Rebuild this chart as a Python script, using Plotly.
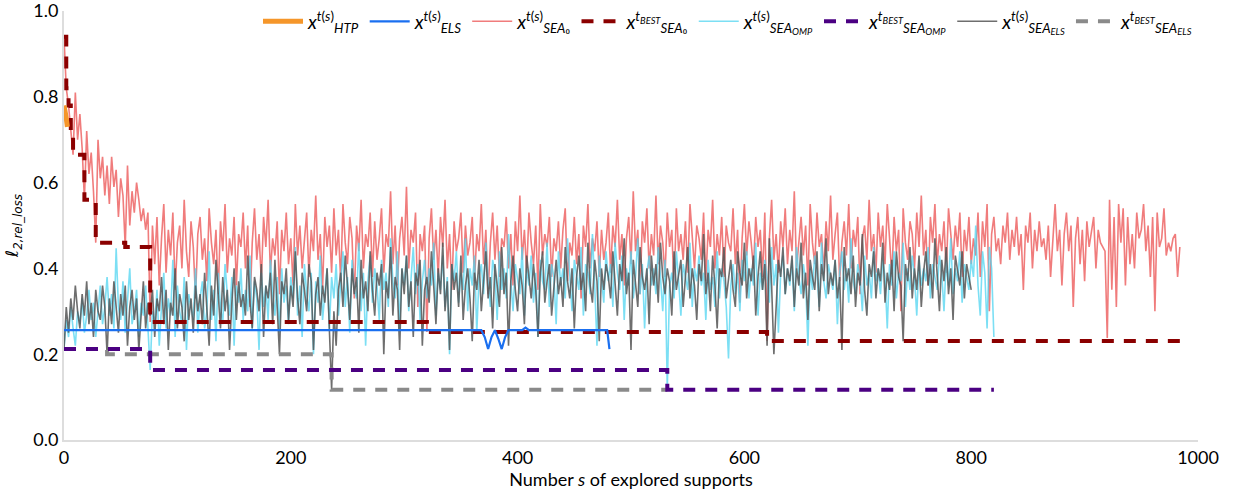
import plotly.graph_objects as go

# ---------------- data ----------------
HTP_S = [0, 1, 2, 3]
HTP_Y = [0.78, 0.77, 0.75, 0.73]

ELS_S = [0, 368, 371, 374, 377, 380, 383, 386, 389, 392, 404, 407, 410, 479, 481]
ELS_Y = [0.256, 0.256, 0.24, 0.212, 0.24, 0.256, 0.236, 0.212, 0.24, 0.256, 0.256, 0.262, 0.256, 0.256, 0.212]

SEA0_Y = [
    0.94, 0.82, 0.78, 0.72, 0.665, 0.81, 0.70, 0.76, 0.68, 0.56, 0.72, 0.62, 0.67, 0.58, 0.46, 0.70, 0.61, 0.66, 0.57, 0.64,
    0.55, 0.66, 0.59, 0.63, 0.52, 0.61, 0.57, 0.45, 0.64, 0.50, 0.58, 0.53, 0.60, 0.56, 0.51, 0.54, 0.49, 0.53, 0.275, 0.50,
    0.41, 0.52, 0.36, 0.47, 0.55, 0.39, 0.49, 0.43, 0.53, 0.35, 0.46, 0.50, 0.40, 0.56, 0.44, 0.38, 0.51, 0.45, 0.33, 0.48,
    0.52, 0.42, 0.47, 0.37, 0.54, 0.46, 0.41, 0.49, 0.34, 0.51, 0.44, 0.55, 0.39, 0.47, 0.43, 0.52, 0.36, 0.48, 0.45, 0.53,
    0.40, 0.50, 0.31, 0.46, 0.54, 0.42, 0.48, 0.37, 0.52, 0.45, 0.56, 0.39, 0.47, 0.43, 0.51, 0.34, 0.49, 0.44, 0.53, 0.41,
    0.47, 0.36, 0.55, 0.43, 0.50, 0.40, 0.46, 0.53, 0.38, 0.49, 0.44, 0.57, 0.42, 0.48, 0.35, 0.52, 0.45, 0.50, 0.39, 0.54,
    0.43, 0.49, 0.37, 0.55, 0.46, 0.41, 0.52, 0.47, 0.33, 0.50, 0.44, 0.56, 0.40, 0.48, 0.45, 0.53, 0.38, 0.51, 0.42, 0.47,
    0.54, 0.39, 0.48, 0.45, 0.58, 0.41, 0.50, 0.36, 0.47, 0.52, 0.43, 0.59, 0.40, 0.49, 0.46, 0.53, 0.31, 0.48, 0.44, 0.50,
    0.252, 0.47, 0.54, 0.42, 0.49, 0.38, 0.52, 0.45, 0.56, 0.40, 0.48, 0.35, 0.51, 0.44, 0.47, 0.53, 0.39, 0.50, 0.43, 0.46,
    0.52, 0.37, 0.48, 0.44, 0.55, 0.41, 0.49, 0.34, 0.46, 0.53, 0.42, 0.50, 0.38, 0.47, 0.45, 0.52, 0.40, 0.48, 0.36, 0.51,
    0.44, 0.57, 0.42, 0.49, 0.39, 0.53, 0.46, 0.41, 0.50, 0.35, 0.55, 0.43, 0.48, 0.45, 0.52, 0.38, 0.47, 0.44, 0.51, 0.40,
    0.49, 0.54, 0.37, 0.46, 0.43, 0.52, 0.41, 0.48, 0.33, 0.50, 0.45, 0.55, 0.40, 0.47, 0.44, 0.51, 0.38, 0.49, 0.42, 0.46,
    0.53, 0.39, 0.50, 0.45, 0.56, 0.42, 0.48, 0.36, 0.47, 0.52, 0.41, 0.58, 0.44, 0.49, 0.34, 0.51, 0.46, 0.54, 0.40, 0.48,
    0.43, 0.57, 0.41, 0.50, 0.46, 0.38, 0.53, 0.45, 0.49, 0.35, 0.54, 0.44, 0.48, 0.42, 0.51, 0.39, 0.55, 0.46, 0.40, 0.50,
    0.47, 0.42, 0.53, 0.37, 0.49, 0.45, 0.56, 0.40, 0.48, 0.43, 0.52, 0.38, 0.50, 0.46, 0.44, 0.54, 0.41, 0.49, 0.32, 0.47,
    0.55, 0.43, 0.51, 0.46, 0.40, 0.52, 0.45, 0.49, 0.38, 0.53, 0.231, 0.47, 0.56, 0.42, 0.48, 0.39, 0.51, 0.45, 0.54, 0.41,
    0.49, 0.44, 0.58, 0.40, 0.47, 0.52, 0.43, 0.50, 0.36, 0.55, 0.46, 0.41, 0.53, 0.45, 0.48, 0.39, 0.51, 0.44, 0.57, 0.42,
    0.48, 0.53, 0.37, 0.46, 0.51, 0.43, 0.55, 0.40, 0.49, 0.45, 0.52, 0.34, 0.47, 0.50, 0.42, 0.56, 0.44, 0.48, 0.39, 0.53,
    0.45, 0.50, 0.41, 0.55, 0.47, 0.38, 0.52, 0.44, 0.49, 0.30, 0.54, 0.46, 0.42, 0.51, 0.48, 0.40, 0.53, 0.45, 0.57, 0.43,
    0.49, 0.36, 0.52, 0.46, 0.55, 0.41, 0.48, 0.44, 0.51, 0.39, 0.54, 0.47, 0.42, 0.50, 0.45, 0.53, 0.38, 0.49, 0.44, 0.52,
    0.41, 0.47, 0.43, 0.53, 0.38, 0.51, 0.45, 0.55, 0.30, 0.48, 0.52, 0.44, 0.47, 0.41, 0.50, 0.46, 0.53, 0.42, 0.49, 0.45,
    0.52, 0.43, 0.48, 0.35, 0.50, 0.46, 0.53, 0.40, 0.49, 0.44, 0.51, 0.45, 0.47, 0.42, 0.50, 0.38, 0.46, 0.55, 0.44, 0.49,
    0.36, 0.48, 0.53, 0.44, 0.50, 0.31, 0.47, 0.52, 0.41, 0.49, 0.37, 0.51, 0.45, 0.48, 0.52, 0.40, 0.49, 0.46, 0.45, 0.44,
    0.238, 0.56, 0.35, 0.52, 0.31, 0.55, 0.46, 0.54, 0.36, 0.52, 0.41, 0.48, 0.40, 0.53, 0.47, 0.49, 0.55, 0.44, 0.50, 0.38,
    0.52, 0.30, 0.53, 0.45, 0.47, 0.54, 0.43, 0.46, 0.44, 0.47, 0.48, 0.38, 0.45,
]
SEA0_S = list(range(0, 2 * len(SEA0_Y), 2))

SEA0_BEST_S = [0, 2, 4, 6, 8, 18, 28, 54, 76, 320, 620, 984]
SEA0_BEST_Y = [0.94, 0.82, 0.78, 0.72, 0.665, 0.56, 0.46, 0.45, 0.275, 0.252, 0.231, 0.231]

OMP_Y = [
    0.212, 0.28, 0.24, 0.31, 0.26, 0.22, 0.30, 0.27, 0.33, 0.25, 0.29, 0.35, 0.28, 0.32, 0.24, 0.30, 0.36, 0.27, 0.31, 0.38,
    0.29, 0.34, 0.26, 0.447, 0.31, 0.28, 0.37, 0.25, 0.33, 0.40, 0.27, 0.30, 0.35, 0.24, 0.32, 0.29, 0.36, 0.26, 0.163, 0.30,
    0.27, 0.35, 0.22, 0.31, 0.39, 0.26, 0.33, 0.29, 0.42, 0.24, 0.36, 0.30, 0.27, 0.38, 0.21, 0.34, 0.31, 0.28, 0.40, 0.25,
    0.33, 0.37, 0.26, 0.30, 0.44, 0.28, 0.35, 0.23, 0.39, 0.31, 0.27, 0.41, 0.34, 0.29, 0.38, 0.22, 0.36, 0.32, 0.40, 0.28,
    0.35, 0.30, 0.43, 0.26, 0.37, 0.33, 0.21, 0.39, 0.31, 0.36, 0.28, 0.42, 0.34, 0.29, 0.38, 0.25, 0.40, 0.32, 0.36, 0.27,
    0.38, 0.33, 0.45, 0.29, 0.36, 0.24, 0.41, 0.34, 0.30, 0.39, 0.20, 0.37, 0.32, 0.43, 0.28, 0.35, 0.40, 0.26, 0.38, 0.33,
    0.41, 0.29, 0.36, 0.44, 0.31, 0.38, 0.25, 0.42, 0.35, 0.33, 0.46, 0.30, 0.39, 0.22, 0.37, 0.43, 0.32, 0.40, 0.36, 0.28,
    0.42, 0.35, 0.39, 0.31, 0.47, 0.37, 0.33, 0.44, 0.26, 0.40, 0.36, 0.43, 0.30, 0.38, 0.45, 0.34, 0.41, 0.28, 0.37, 0.42,
    0.33, 0.40, 0.36, 0.46, 0.29, 0.39, 0.35, 0.43, 0.31, 0.38, 0.20, 0.41, 0.37, 0.44, 0.32, 0.39, 0.35, 0.47, 0.30, 0.40,
    0.36, 0.43, 0.25, 0.38, 0.41, 0.34, 0.46, 0.37, 0.31, 0.42, 0.39, 0.28, 0.44, 0.35, 0.40, 0.33, 0.48, 0.37, 0.30, 0.41,
    0.38, 0.34, 0.45, 0.29, 0.40, 0.36, 0.43, 0.32, 0.39, 0.24, 0.42, 0.37, 0.35, 0.46, 0.31, 0.41, 0.38, 0.27, 0.44, 0.36,
    0.40, 0.33, 0.47, 0.37, 0.30, 0.42, 0.38, 0.35, 0.45, 0.29, 0.41, 0.39, 0.34, 0.48, 0.36, 0.22, 0.43, 0.38, 0.32, 0.44,
    0.37, 0.41, 0.31, 0.46, 0.39, 0.35, 0.43, 0.28, 0.40, 0.36, 0.44, 0.33, 0.38, 0.47, 0.34, 0.41, 0.26, 0.39, 0.43, 0.36,
    0.40, 0.34, 0.45, 0.38, 0.30, 0.42, 0.117, 0.36, 0.39, 0.33, 0.44, 0.37, 0.29, 0.41, 0.38, 0.35, 0.46, 0.31, 0.40, 0.37,
    0.43, 0.36, 0.39, 0.28, 0.42, 0.35, 0.38, 0.31, 0.44, 0.33, 0.40, 0.37, 0.31, 0.19, 0.36, 0.41, 0.34, 0.39, 0.30, 0.42,
    0.37, 0.44, 0.33, 0.40, 0.36, 0.46, 0.29, 0.39, 0.35, 0.42, 0.38, 0.32, 0.45, 0.36, 0.41, 0.25, 0.39, 0.43, 0.34, 0.40,
    0.36, 0.42, 0.30, 0.45, 0.38, 0.34, 0.41, 0.37, 0.22, 0.40, 0.35, 0.43, 0.39, 0.31, 0.46, 0.37, 0.33, 0.41, 0.38, 0.35,
    0.42, 0.27, 0.39, 0.44, 0.35, 0.40, 0.32, 0.47, 0.37, 0.34, 0.41, 0.38, 0.30, 0.43, 0.36, 0.39, 0.33, 0.45, 0.37, 0.40,
    0.34, 0.42, 0.38, 0.26, 0.41, 0.36, 0.44, 0.33, 0.39, 0.37, 0.46, 0.31, 0.40, 0.35, 0.43, 0.38, 0.29, 0.42, 0.36, 0.40,
    0.37, 0.45, 0.33, 0.41, 0.38, 0.35, 0.43, 0.39, 0.30, 0.42, 0.36, 0.47, 0.34, 0.40, 0.37, 0.44, 0.32, 0.41, 0.38, 0.35,
    0.42, 0.38, 0.50, 0.36, 0.29, 0.44, 0.39, 0.26, 0.45, 0.40, 0.24,
]
OMP_S = list(range(0, 2 * len(OMP_Y), 2))

OMP_BEST_S = [0, 76, 532, 820]
OMP_BEST_Y = [0.212, 0.163, 0.117, 0.117]

SEAELS_Y = [
    0.212, 0.31, 0.25, 0.33, 0.28, 0.36, 0.30, 0.26, 0.34, 0.29, 0.37, 0.27, 0.32, 0.24, 0.35, 0.30, 0.28, 0.36, 0.31, 0.20,
    0.33, 0.27, 0.37, 0.30, 0.25, 0.34, 0.29, 0.36, 0.22, 0.31, 0.35, 0.28, 0.33, 0.21, 0.30, 0.37, 0.26, 0.32, 0.29, 0.35,
    0.24, 0.33, 0.30, 0.38, 0.27, 0.35, 0.21, 0.32, 0.29, 0.40, 0.26, 0.34, 0.31, 0.23, 0.37, 0.28, 0.33, 0.25, 0.36, 0.30,
    0.34, 0.27, 0.39, 0.31, 0.22, 0.36, 0.29, 0.42, 0.33, 0.26, 0.38, 0.30, 0.35, 0.21, 0.32, 0.40, 0.28, 0.37, 0.31, 0.34,
    0.29, 0.43, 0.32, 0.26, 0.38, 0.35, 0.30, 0.41, 0.24, 0.36, 0.33, 0.39, 0.27, 0.42, 0.31, 0.20, 0.37, 0.34, 0.40, 0.28,
    0.36, 0.31, 0.44, 0.33, 0.27, 0.39, 0.35, 0.30, 0.41, 0.37, 0.21, 0.34, 0.38, 0.29, 0.36, 0.32, 0.40, 0.26, 0.117, 0.30,
    0.22, 0.35, 0.39, 0.31, 0.43, 0.36, 0.28, 0.40, 0.34, 0.38, 0.25, 0.42, 0.33, 0.37, 0.30, 0.44, 0.35, 0.29, 0.39, 0.36,
    0.41, 0.20, 0.37, 0.33, 0.45, 0.29, 0.38, 0.35, 0.21, 0.40, 0.34, 0.43, 0.31, 0.37, 0.24, 0.39, 0.36, 0.42, 0.22, 0.35,
    0.38, 0.32, 0.44, 0.36, 0.27, 0.40, 0.34, 0.46, 0.30, 0.37, 0.21, 0.41, 0.35, 0.39, 0.31, 0.43, 0.28, 0.36, 0.40, 0.33,
    0.23, 0.39, 0.35, 0.42, 0.30, 0.37, 0.44, 0.33, 0.38, 0.26, 0.41, 0.36, 0.31, 0.45, 0.34, 0.39, 0.22, 0.37, 0.43, 0.35,
    0.30, 0.40, 0.36, 0.27, 0.43, 0.38, 0.33, 0.41, 0.35, 0.24, 0.39, 0.44, 0.32, 0.37, 0.41, 0.29, 0.36, 0.42, 0.34, 0.38,
    0.31, 0.45, 0.37, 0.33, 0.40, 0.26, 0.38, 0.43, 0.35, 0.39, 0.30, 0.46, 0.36, 0.32, 0.42, 0.37, 0.23, 0.40, 0.35, 0.41,
    0.38, 0.33, 0.44, 0.36, 0.29, 0.41, 0.37, 0.47, 0.34, 0.39, 0.21, 0.42, 0.36, 0.31, 0.45, 0.38, 0.35, 0.40, 0.27, 0.43,
    0.36, 0.41, 0.32, 0.46, 0.38, 0.34, 0.40, 0.37, 0.29, 0.44, 0.35, 0.39, 0.42, 0.31, 0.38, 0.45, 0.33, 0.40, 0.36, 0.28,
    0.41, 0.37, 0.48, 0.34, 0.39, 0.30, 0.43, 0.36, 0.26, 0.40, 0.38, 0.45, 0.33, 0.37, 0.42, 0.35, 0.31, 0.44, 0.39, 0.36,
    0.46, 0.33, 0.40, 0.37, 0.43, 0.29, 0.38, 0.44, 0.35, 0.41, 0.22, 0.47, 0.36, 0.20, 0.32, 0.42, 0.38, 0.45, 0.34, 0.40,
    0.37, 0.43, 0.31, 0.40, 0.36, 0.46, 0.33, 0.39, 0.28, 0.42, 0.38, 0.35, 0.44, 0.30, 0.41, 0.37, 0.47, 0.34, 0.39, 0.36,
    0.42, 0.33, 0.38, 0.21, 0.45, 0.37, 0.40, 0.34, 0.43, 0.31, 0.39, 0.36, 0.48, 0.35, 0.29, 0.41, 0.38, 0.44, 0.33, 0.40,
    0.37, 0.46, 0.32, 0.39, 0.35, 0.42, 0.30, 0.44, 0.38, 0.36, 0.23, 0.41, 0.37, 0.45, 0.33, 0.40, 0.35, 0.43, 0.31, 0.39,
    0.44, 0.36, 0.41, 0.33, 0.47, 0.38, 0.30, 0.42, 0.37, 0.45, 0.34, 0.40, 0.28, 0.43, 0.39, 0.36, 0.44, 0.33, 0.41, 0.38,
    0.35,
]
SEAELS_S = list(range(0, 2 * len(SEAELS_Y), 2))

SEAELS_BEST_S = [0, 38, 236, 532]
SEAELS_BEST_Y = [0.212, 0.20, 0.117, 0.117]

NAMES = {
    "htp": "<i>x</i><sup><i>t</i>(<i>s</i>)</sup><sub><i>HTP</i></sub>",
    "els": "<i>x</i><sup><i>t</i>(<i>s</i>)</sup><sub><i>ELS</i></sub>",
    "sea0": "<i>x</i><sup><i>t</i>(<i>s</i>)</sup><sub><i>SEA</i>₀</sub>",
    "sea0b": "<i>x</i><sup><i>t<sub>BEST</sub></i></sup><sub><i>SEA</i>₀</sub>",
    "omp": "<i>x</i><sup><i>t</i>(<i>s</i>)</sup><sub><i>SEA<sub>OMP</sub></i></sub>",
    "ompb": "<i>x</i><sup><i>t<sub>BEST</sub></i></sup><sub><i>SEA<sub>OMP</sub></i></sub>",
    "sels": "<i>x</i><sup><i>t</i>(<i>s</i>)</sup><sub><i>SEA<sub>ELS</sub></i></sub>",
    "selsb": "<i>x</i><sup><i>t<sub>BEST</sub></i></sup><sub><i>SEA<sub>ELS</sub></i></sub>",
}

DASH = "12px,10px"

fig = go.Figure()
# draw order (bottom -> top), legend order kept with legendrank
fig.add_trace(go.Scatter(x=SEA0_S, y=SEA0_Y, mode="lines", name=NAMES["sea0"], legendrank=3,
                         line=dict(color="rgba(238,110,110,0.9)", width=1.6)))
fig.add_trace(go.Scatter(x=OMP_S, y=OMP_Y, mode="lines", name=NAMES["omp"], legendrank=5,
                         line=dict(color="rgba(80,212,240,0.75)", width=1.6)))
fig.add_trace(go.Scatter(x=SEAELS_S, y=SEAELS_Y, mode="lines", name=NAMES["sels"], legendrank=7,
                         line=dict(color="rgba(85,85,85,0.85)", width=1.6)))
fig.add_trace(go.Scatter(x=SEAELS_BEST_S, y=SEAELS_BEST_Y, mode="lines", name=NAMES["selsb"], legendrank=8,
                         line=dict(color="#8a8a8a", width=4, dash=DASH, shape="hv")))
fig.add_trace(go.Scatter(x=OMP_BEST_S, y=OMP_BEST_Y, mode="lines", name=NAMES["ompb"], legendrank=6,
                         line=dict(color="#4B0082", width=4, dash=DASH, shape="hv")))
fig.add_trace(go.Scatter(x=SEA0_BEST_S, y=SEA0_BEST_Y, mode="lines", name=NAMES["sea0b"], legendrank=4,
                         line=dict(color="#8B0000", width=4, dash=DASH, shape="hv")))
fig.add_trace(go.Scatter(x=ELS_S, y=ELS_Y, mode="lines", name=NAMES["els"], legendrank=2,
                         line=dict(color="#1a6ff0", width=2.2)))
fig.add_trace(go.Scatter(x=HTP_S, y=HTP_Y, mode="lines", name=NAMES["htp"], legendrank=1,
                         line=dict(color="#F5962A", width=5)))

FONT = "Lato, 'DejaVu Sans', sans-serif"
fig.update_layout(
    width=1236, height=492,
    margin=dict(l=64, r=38, t=11, b=52, autoexpand=False),
    paper_bgcolor="white", plot_bgcolor="white",
    font=dict(family=FONT, size=18, color="black"),
    legend=dict(orientation="h", x=1.0, xanchor="right", yref="container", y=0.995, yanchor="top",
                bgcolor="rgba(0,0,0,0)", font=dict(size=19), traceorder="normal", itemwidth=40),
    xaxis=dict(range=[0, 1000], tickvals=[0, 200, 400, 600, 800, 1000], automargin=False,
               showgrid=False, zeroline=False, showline=True, linecolor="#dddddd", linewidth=2,
               ticks="", tickfont=dict(size=18), ticklabeloverflow="allow",
               title=dict(text="Number <i>s</i> of explored supports", font=dict(size=18), standoff=2)),
    yaxis=dict(range=[0, 1.0], tickvals=[0, 0.2, 0.4, 0.6, 0.8, 1.0], tickformat=".1f", automargin=False,
               showgrid=False, zeroline=False, showline=True, linecolor="#dddddd", linewidth=2,
               ticks="", tickfont=dict(size=18), ticklabeloverflow="allow",
               title=dict(text="<i>ℓ</i><sub><i>2,rel_loss</i></sub>",
                          font=dict(size=17, family="'DejaVu Sans', Lato, sans-serif"), standoff=10)),
    showlegend=True,
)

fig.write_html("out.html", config={"displayModeBar": False},
               post_script="document.body.style.margin='0';document.body.style.padding='0';"
                           "document.documentElement.style.overflow='hidden';")
